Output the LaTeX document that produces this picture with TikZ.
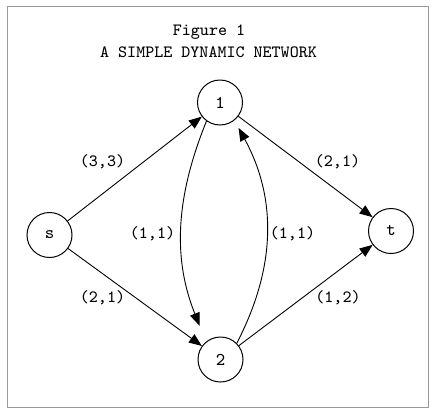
\documentclass[tikz,border=0pt]{standalone}
\usetikzlibrary{arrows.meta}

\tikzset{
  sommet/.style={draw, circle, line width=0.5pt, minimum size=22.5pt, inner sep=0pt, font=\ttfamily\fontsize{9}{10}\selectfont},
  arc/.style={line width=0.45pt, -{Triangle[length=6.5pt,width=5pt]}},
  poids/.style={font=\ttfamily\fontsize{8.6}{10}\selectfont},
}

\begin{document}
\begin{tikzpicture}[x=0.5pt,y=0.5pt]

\useasboundingbox (0,0) rectangle (438,414);

% Cadre
\draw[gray!80, line width=0.5pt] (7.3,7) rectangle (428,408);

% Titre
\node[font=\ttfamily\fontsize{8.6}{10}\selectfont] (titre) at (209,382) {Figure 1};
\node[font=\ttfamily\fontsize{8.6}{10}\selectfont] (soustitre) at (208.5,362) {A SIMPLE DYNAMIC NETWORK};

% Sommets
\node[sommet] (s) at (49.5,179) {s};
\node[sommet] (n1) at (220,311.5) {1};
\node[sommet] (n2) at (220.5,54.5) {2};
\node[sommet] (t) at (391,183) {t};

% Arcs
\draw[arc] (s) -- (n1);
\draw[arc] (s) -- (n2);
\draw[arc] (n1) -- (t);
\draw[arc] (n2) -- (t);

\draw[arc, shorten >=8.5pt] (n1.-126) to[bend right=22] (n2.129);
\draw[arc, shorten >=4.3pt] (n2.45) to[bend right=28] (n1.-51);

% Etiquettes
\node[poids] (l1) at (102.5,252.3) {(3,3)};
\node[poids] (l2) at (337.5,252.3) {(2,1)};
\node[poids] (l3) at (152.5,180) {(1,1)};
\node[poids] (l4) at (292.5,180) {(1,1)};
\node[poids] (l5) at (102.5,116) {(2,1)};
\node[poids] (l6) at (338,116) {(1,2)};

\end{tikzpicture}
\end{document}
